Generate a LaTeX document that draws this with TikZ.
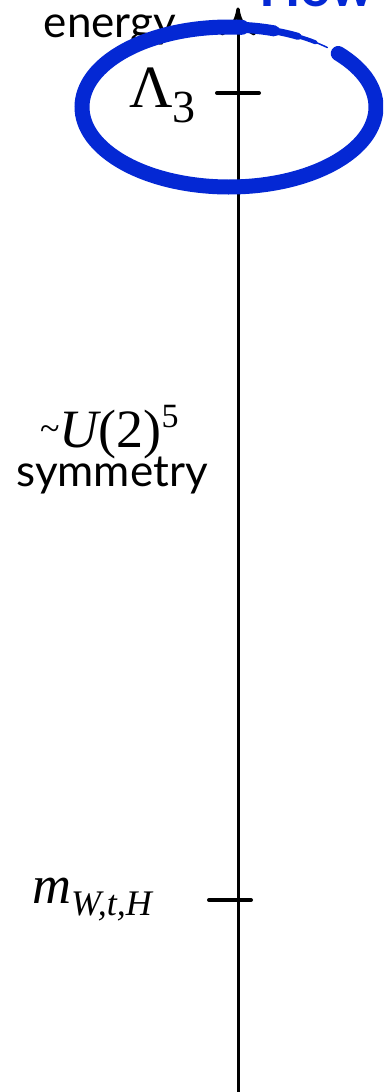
\documentclass[tikz,border=0pt]{standalone}
\usepackage{fontspec}
\setmainfont{Liberation Serif}
\newfontfamily\lato{Lato}
\usetikzlibrary{arrows.meta}
\definecolor{inkblue}{RGB}{4,40,212}
\tikzset{
  lbl/.style={inner sep=0pt, anchor=base, text=black},
  sanslbl/.style={lbl, font=\lato\fontsize{44}{52}\selectfont},
  tickmark/.style={line width=4pt, line cap=round},
  axisline/.style={line width=3pt},
  barb/.style={line width=3pt, line cap=round},
  brush/.style={draw=inkblue, line cap=round}
}
\begin{document}
\begin{tikzpicture}[x=1pt,y=1pt]
\useasboundingbox (0,0) rectangle (383,-1092);
\clip (0,0) rectangle (383,-1092);
% title fragment
\node[inner sep=0pt, anchor=base west, text=inkblue, font=\lato\bfseries\fontsize{54}{60}\selectfont] (how) at (259,-6) {How};
% axis
\coordinate (bottom) at (238,-1095);
\coordinate (top) at (238,-9);
\coordinate (barbL) at (222,-34);
\coordinate (barbR) at (254,-34);
\draw[axisline] (bottom) -- (top);
\draw[barb] (top) .. controls (236,-22) and (230,-30) .. (barbL);
\draw[barb] (top) .. controls (240,-22) and (246,-30) .. (barbR);
% ticks
\coordinate (l3a) at (217,-93);
\coordinate (l3b) at (259,-93);
\coordinate (mwa) at (209,-900);
\coordinate (mwb) at (251,-900);
\draw[tickmark] (l3a) -- (l3b);
\draw[tickmark] (mwa) -- (mwb);
% labels
\node[sanslbl] (energy) at (110,-37) {energy};
\node[lbl, anchor=base west] (lam) at (129,-107) {\fontsize{60}{66}\selectfont Λ\raisebox{-15pt}{\fontsize{46}{50}\selectfont 3}};
\node[lbl, anchor=base west] (sym) at (40,-447) {\raisebox{7pt}{\fontsize{36}{40}\selectfont\textasciitilde}\fontsize{54}{60}\selectfont\itshape U\upshape(2)\raisebox{20pt}{\fontsize{34}{38}\selectfont 5}};
\node[sanslbl] (symw) at (112,-486) {symmetry};
\node[lbl, anchor=base west] (mw) at (32,-903) {\fontsize{54}{60}\selectfont\itshape m\raisebox{-12pt}{\fontsize{36}{40}\selectfont W,t,H}};
% blue circling stroke
\def\cx{229}\def\cy{-107}
\draw[brush, line width=15pt] (\cx,\cy) ++(42:147 and 80) arc[start angle=42, end angle=-275, x radius=147, y radius=80];
\draw[brush, line width=11pt] (\cx,\cy) ++(-275:147 and 80) arc[start angle=-275, end angle=-288, x radius=147, y radius=80];
\draw[brush, line width=7pt] (\cx,\cy) ++(-288:147 and 80) arc[start angle=-288, end angle=-298, x radius=147, y radius=80];
\draw[brush, line width=4pt] (\cx,\cy) ++(-298:147 and 80) arc[start angle=-298, end angle=-306, x radius=147, y radius=80];
\draw[brush, line width=1.5pt] (\cx,\cy) ++(-306:147 and 80) arc[start angle=-306, end angle=-312, x radius=147, y radius=80];
\end{tikzpicture}
\end{document}
